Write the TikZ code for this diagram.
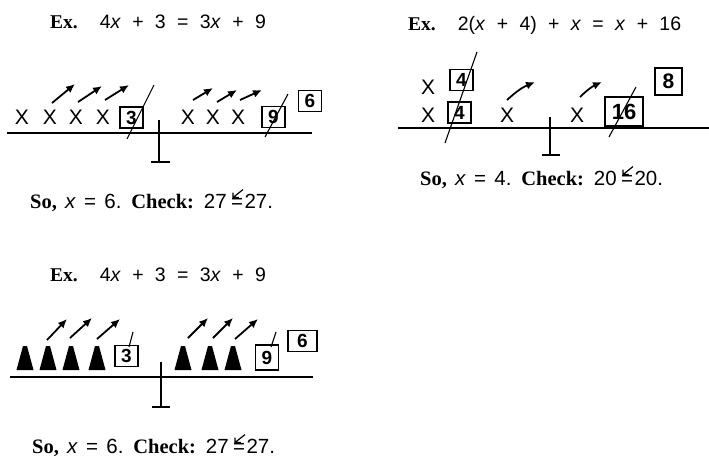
\documentclass[tikz,border=0pt]{standalone}
\usepackage{fontspec}
\setmainfont{Liberation Serif}
\newfontfamily\handfont{Liberation Sans}
\newcommand{\eqfont}{\handfont\spaceskip=0.58em\relax}
\newcommand{\wide}{\spaceskip=0.4em\relax}
\usetikzlibrary{arrows.meta, positioning}

\begin{document}
\begin{tikzpicture}[x=1pt, y=-1pt, node distance=1pt]
\tikzstyle{title} = [anchor=west, inner sep=0pt, font=\fontsize{19.5}{22}\selectfont]
\tikzstyle{answer} = [inner sep=0pt, font=\fontsize{20.5}{22}\selectfont]
\tikzstyle{answerhand} = [inner sep=0pt, anchor=base west, font=\handfont\fontsize{20.5}{22}\selectfont]
\tikzstyle{unknown} = [inner sep=0pt, font=\handfont\fontsize{21}{21}\selectfont]
\tikzstyle{numbox} = [draw, line width=1.4pt, inner sep=0pt, minimum width=23pt, minimum height=21pt, font=\handfont\bfseries\fontsize{19}{19}\selectfont]
\tikzstyle{beam} = [line width=1.5pt]
\tikzstyle{slash} = [line width=1.1pt]
\tikzstyle{move} = [draw, line width=1.8pt, -{Latex[length=9pt, width=8pt]}]
\tikzstyle{tick} = [line width=1.2pt]

\useasboundingbox (0,0) rectangle (709,466);

% first example: x's on the balance
\node [title] (ex1) at (50,22) {\textbf{Ex.}\hspace{22pt}{\eqfont 4\textit{x} + 3 = 3\textit{x} + 9}};
\draw [beam] (7,133) -- (312,133);
\draw [beam] (159,120) -- (159,162) (151,162) -- (170,162);
\node [unknown] (xa) at (22,117) {X};
\node [unknown] (xb) at (50,117) {X};
\node [unknown] (xc) at (76,117) {X};
\node [unknown] (xd) at (103,117) {X};
\node [numbox] (three) at (131.5,117.5) {3};
\node [unknown] (xe) at (188,117) {X};
\node [unknown] (xf) at (213,117) {X};
\node [unknown] (xg) at (238,117) {X};
\node [numbox] (nine) at (273.5,117) {9};
\node [numbox] (six) at (310,101) {6};
\draw [slash] (127,139) -- (154,85);
\draw [slash] (265,137) -- (288,94);
\draw [move] (52,103) -- (75,84);
\draw [move] (78,102) -- (102,86);
\draw [move] (105,100) -- (129,85);
\draw [move] (193,100) -- (213,88);
\draw [move] (217,102) -- (237,90);
\draw [move] (240,100) -- (262,90);
\node [answer, anchor=west] (so1) at (30,203) {\wide\textbf{So,} {\handfont\wide\textit{x} = 6.} \textbf{Check:} {\handfont 27}};
\node [answerhand] (eq1) at ([xshift=4pt]so1.base east) {=};
\node [answerhand] (val1) at ([xshift=1pt]eq1.base east) {27.};
\draw [tick] ([shift={(2,-11)}]eq1.base west) coordinate (c1) ++(0,-5) -- (c1) -- ++(6,0) (c1) -- ++(10,-8);

% second example
\node [title] (ex2) at (408,25) {\textbf{Ex.}\hspace{22pt}{\eqfont 2(\textit{x} + 4) + \textit{x} = \textit{x} + 16}};
\draw [beam] (398,128) -- (709,128);
\draw [beam] (550,117) -- (550,155) (542,155) -- (560,155);
\node [unknown] (ya) at (428,87) {X};
\node [unknown] (yb) at (428,115) {X};
\node [numbox] (fourA) at (461.5,80) {4};
\node [numbox] (fourB) at (459.5,112.5) {4};
\node [unknown] (yc) at (507,115) {X};
\node [unknown] (yd) at (577,115) {X};
\node [numbox, minimum width=38pt, minimum height=29pt, font=\handfont\bfseries\fontsize{22}{22}\selectfont] (sixteen) at (624,111.5) {16};
\node [numbox, minimum width=27pt, minimum height=27pt, font=\handfont\bfseries\fontsize{21}{21}\selectfont] (eight) at (668.5,81.5) {8};
\draw [slash] (477,52) -- (445,143);
\draw [slash] (609,137) -- (636,87);
\draw [move] (507,100) to[bend left=10] (535,82);
\draw [move] (580,97) to[bend left=10] (602,82);
\node [answer, anchor=west] (so2) at (420,180) {\wide\textbf{So,} {\handfont\wide\textit{x} = 4.} \textbf{Check:} {\handfont 20}};
\node [answerhand] (eq2) at ([xshift=4pt]so2.base east) {=};
\node [answerhand] (val2) at ([xshift=1pt]eq2.base east) {20.};
\draw [tick] ([shift={(2,-11)}]eq2.base west) coordinate (c2) ++(0,-5) -- (c2) -- ++(6,0) (c2) -- ++(10,-8);

% third example: cones on the balance
\node [title] (ex3) at (50,275) {\textbf{Ex.}\hspace{22pt}{\eqfont 4\textit{x} + 3 = 3\textit{x} + 9}};
\draw [beam] (10,377) -- (313,377);
\draw [beam] (161,362) -- (161,407) (152,407) -- (170,407);
\foreach \cx in {25, 48, 71, 97, 183, 210, 233}
  \fill (\cx-8.5,370) -- (\cx-2,346) -- (\cx+2,346) -- (\cx+8.5,370) -- cycle;
\node [numbox] (threeC) at (126.5,356) {3};
\node [numbox, minimum height=25pt] (nineC) at (267,357.5) {9};
\node [numbox, minimum width=29pt] (sixC) at (302.5,341) {6};
\draw [slash] (129,347) -- (133,332);
\draw [slash] (271,347) -- (276,332);
\draw [move] (47,340) -- (67,319);
\draw [move] (70,338) -- (92,318);
\draw [move] (97,339) -- (120,319);
\draw [move] (188,338) -- (208,318);
\draw [move] (213,338) -- (233,318);
\draw [move] (235,339) -- (258,319);
\node [answer, anchor=west] (so3) at (32,448) {\wide\textbf{So,} {\handfont\wide\textit{x} = 6.} \textbf{Check:} {\handfont 27}};
\node [answerhand] (eq3) at ([xshift=4pt]so3.base east) {=};
\node [answerhand] (val3) at ([xshift=1pt]eq3.base east) {27.};
\draw [tick] ([shift={(2,-11)}]eq3.base west) coordinate (c3) ++(0,-5) -- (c3) -- ++(6,0) (c3) -- ++(10,-8);
\end{tikzpicture}
\end{document}
